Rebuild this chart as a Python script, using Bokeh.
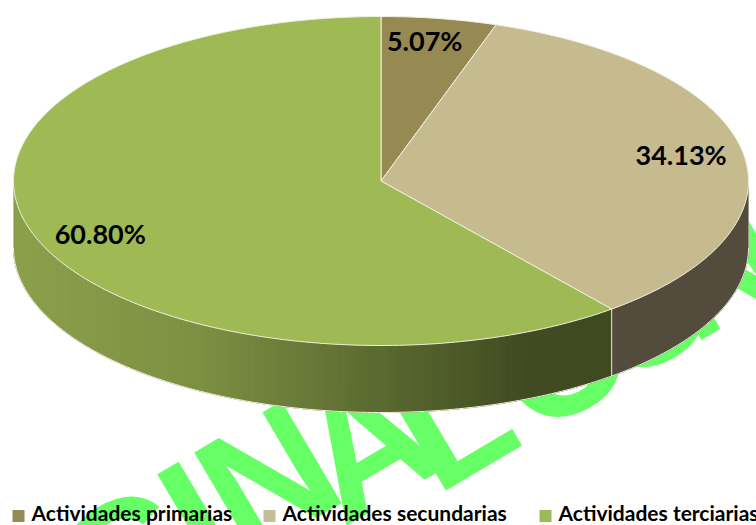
import numpy as np
from bokeh.plotting import figure
from bokeh.models import Range1d
from bokeh.embed import file_html
from bokeh.resources import INLINE
from bokeh.core.properties import value

# ---------------- data ----------------
categories = ["Actividades primarias", "Actividades secundarias", "Actividades terciarias"]
shares = [5.07, 34.13, 60.80]
label_texts = ["5.07%", "34.13%", "60.80%"]

# ---------------- styles ----------------
top_colors = ["#968A52", "#C5BB8F", "#9FB955"]
side_colors = ["#6E6438", "#534B3B", None]          # None -> horizontal gradient
legend_colors = ["#948A54", "#C4BD97", "#9BBB59"]
edge_color = "#F1EFDF"
grad_stops_x = [13, 200, 380, 520, 620]
grad_stops_c = [(0x8C, 0xA0, 0x4C), (0x7C, 0x90, 0x42), (0x5A, 0x6A, 0x30),
                (0x42, 0x4C, 0x22), (0x40, 0x4A, 0x20)]
label_r = [0.75, 0.83, 0.81]
label_dy = [-18.5, -2.5, 8.5]
legend_x = [12, 263, 539]

# watermark (decorative text, letter by letter along a rotated baseline)
wm_letters = list("GINALCON")
wm_pos = [-318, -237, -156, -55, 32, 154, 256, 338]   # along the baseline
wm_lift = [42, 42, 42, 20, 0, 0, 0, 0]                 # perpendicular lift
wm_origin = (453.0, 485.0)
wm_angle = 30.5
wm_size = 172

W, H = 756, 525


def Y(y):
    """page pixel row -> data y"""
    return H - y


p = figure(width=W, height=H, x_range=Range1d(0, W), y_range=Range1d(0, H),
           output_backend="svg", toolbar_location=None,
           x_axis_location=None, y_axis_location=None, min_border=0)
p.grid.visible = False
p.outline_line_color = None
p.background_fill_color = "white"
p.border_fill_color = "white"

# ---------------- watermark ----------------
ca, sa = np.cos(np.radians(wm_angle)), np.sin(np.radians(wm_angle))
wx, wy = [], []
for s, lift in zip(wm_pos, wm_lift):
    up = 0.3465 * wm_size + lift
    px = wm_origin[0] + s * ca - up * sa
    py = wm_origin[1] - s * sa - up * ca
    wx.append(px)
    wy.append(Y(py))
p.text(x=wx, y=wy, text=wm_letters, angle=wm_angle, angle_units="deg",
       text_font=value("Liberation Sans"), text_font_style="bold",
       text_font_size=f"{wm_size}px", text_color="#66FF66",
       text_align="center", text_baseline="middle")

# ---------------- pie geometry ----------------
cx, cy, rx, ry, depth = 380.5, 180.5, 367.5, 164.5, 67.0


def ell(t, dy=0.0):
    t = np.asarray(t, dtype=float)
    return cx + rx * np.sin(t), Y(cy - ry * np.cos(t) + dy)


total = float(sum(shares))
bounds = np.concatenate([[0.0], np.cumsum(shares) / total * 2 * np.pi])


def grad_color(x):
    r = np.interp(x, grad_stops_x, [c[0] for c in grad_stops_c])
    g = np.interp(x, grad_stops_x, [c[1] for c in grad_stops_c])
    b = np.interp(x, grad_stops_x, [c[2] for c in grad_stops_c])
    return "#%02x%02x%02x" % (int(r), int(g), int(b))


# side walls (front half only)
side_xs, side_ys, side_cols = [], [], []
for i in range(len(shares)):
    lo = max(bounds[i], np.pi / 2)
    hi = min(bounds[i + 1], 3 * np.pi / 2)
    if lo >= hi:
        continue
    if side_colors[i] is not None:
        ts = np.linspace(lo, hi, 80)
        xt, yt = ell(ts)
        xb, yb = ell(ts[::-1], depth)
        side_xs.append(list(np.concatenate([xt, xb])))
        side_ys.append(list(np.concatenate([yt, yb])))
        side_cols.append(side_colors[i])
    else:
        n = 150
        edges = np.linspace(lo, hi, n + 1)
        for k in range(n):
            ts = np.linspace(edges[k], edges[k + 1], 4)
            xt, yt = ell(ts)
            xb, yb = ell(ts[::-1], depth)
            side_xs.append(list(np.concatenate([xt, xb])))
            side_ys.append(list(np.concatenate([yt, yb])))
            side_cols.append(grad_color(float(np.mean(xt))))
p.patches(side_xs, side_ys, fill_color=side_cols, line_color=side_cols, line_width=1)

# outline of the wall
tf = np.linspace(np.pi / 2, 3 * np.pi / 2, 200)
bx, by = ell(tf, depth)
p.line(bx, by, line_color=edge_color, line_width=1)
for tb in bounds:
    if np.pi / 2 <= tb <= 3 * np.pi / 2:
        x0, y0 = ell(tb)
        x1, y1 = ell(tb, depth)
        p.line([x0, x1], [y0, y1], line_color=edge_color, line_width=1)
for tb in (np.pi / 2, 3 * np.pi / 2):
    x0, y0 = ell(tb)
    x1, y1 = ell(tb, depth)
    p.line([x0, x1], [y0, y1], line_color=edge_color, line_width=0.8, line_alpha=0.6)

# top face wedges
top_xs, top_ys = [], []
for i in range(len(shares)):
    npts = max(3, int(400 * shares[i] / total))
    ts = np.linspace(bounds[i], bounds[i + 1], npts)
    xe, ye = ell(ts)
    top_xs.append([cx] + list(xe))
    top_ys.append([Y(cy)] + list(ye))
p.patches(top_xs, top_ys, fill_color=top_colors, line_color=edge_color, line_width=1)

# ---------------- data labels ----------------
lab_x, lab_y = [], []
for i in range(len(shares)):
    tm = (bounds[i] + bounds[i + 1]) / 2
    lab_x.append(cx + rx * label_r[i] * np.sin(tm))
    lab_y.append(Y(cy - ry * label_r[i] * np.cos(tm) + label_dy[i]))
p.text(lab_x, lab_y, text=label_texts, text_font=value("Lato"), text_font_style="bold",
       text_font_size="27px", text_color="black", text_align="center",
       text_baseline="middle")

# ---------------- legend ----------------
p.scatter([x + 6 for x in legend_x], [Y(515.5)] * 3, marker="square", size=12,
          fill_color=legend_colors, line_color=None)
p.text([x + 19 for x in legend_x], [Y(511.5)] * 3, text=categories,
       text_font=value("Lato"), text_font_style="bold", text_font_size="21px",
       text_color="black", text_align="left", text_baseline="middle")

open("out.html", "w").write(file_html(p, INLINE))
